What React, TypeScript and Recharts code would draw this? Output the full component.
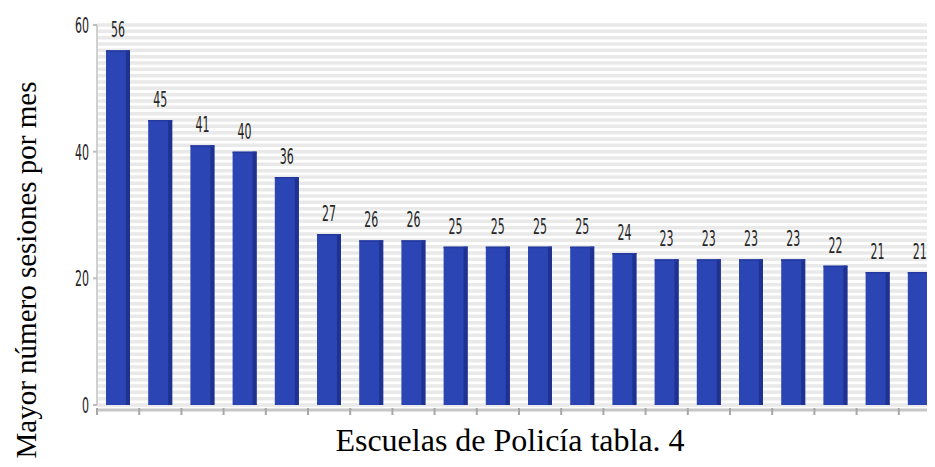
import { BarChart, Bar, XAxis, YAxis, CartesianGrid, LabelList } from 'recharts'

// one bar per police school (names are not printed on the chart)
const schools = [
  'Escuela 1', 'Escuela 2', 'Escuela 3', 'Escuela 4', 'Escuela 5',
  'Escuela 6', 'Escuela 7', 'Escuela 8', 'Escuela 9', 'Escuela 10',
  'Escuela 11', 'Escuela 12', 'Escuela 13', 'Escuela 14', 'Escuela 15',
  'Escuela 16', 'Escuela 17', 'Escuela 18', 'Escuela 19', 'Escuela 20',
]
const sessions = [56, 45, 41, 40, 36, 27, 26, 26, 25, 25, 25, 25, 24, 23, 23, 23, 23, 22, 21, 21]
const yTicks = [0, 20, 40, 60]
const yMax = 60
const stripeStep = 1

const data = schools.map((name, i) => ({ name, value: sessions[i] }))

const BAR = '#2b45b4'
const BAR_EDGE = '#1f3290'
const LABEL = '#262626'
const SERIF = '"Liberation Serif", "Times New Roman", Times, serif'

const ShadedBar = (props: any) => {
  const { x, y, width, height } = props
  if (!height) return null
  const edge = Math.max(3, width * 0.17)
  return (
    <g>
      <rect x={x} y={y} width={width} height={height} fill={BAR} />
      <rect x={x + width - edge} y={y} width={edge} height={height} fill={BAR_EDGE} />
      <rect x={x} y={y} width={width} height={1.5} fill="#23399e" />
    </g>
  )
}

// narrow digits, like the original chart tool
const ValueLabel = (props: any) => {
  const { x, y, width, value } = props
  return (
    <g transform={`translate(${x + width / 2},${y - 13})`}>
      <text transform="scale(0.5,1)" textAnchor="middle" fontSize={22} fontFamily="DejaVu Sans" fill={LABEL}>
        {value}
      </text>
    </g>
  )
}

const YTick = (props: any) => {
  const { x, y, payload } = props
  return (
    <g transform={`translate(${x},${y})`}>
      <text transform="scale(0.5,1)" textAnchor="end" dy="0.36em" fontSize={22} fontFamily="DejaVu Sans" fill={LABEL}>
        {payload.value}
      </text>
    </g>
  )
}

// tick marks sit on the band boundaries, not the centres
const XTick = (props: any) => {
  const { x, y, payload } = props
  const half = payload?.offset ?? 21
  return <line x1={x - half} x2={x - half} y1={y + 3} y2={y + 10} stroke="#a8a8a8" strokeWidth={2} />
}

const stripes = (args: any) => {
  const { yAxis, offset } = args
  const vals: number[] = []
  for (let v = 0; v <= yMax; v += stripeStep) vals.push(v)
  if (yAxis && typeof yAxis.scale === 'function') return vals.map(v => yAxis.scale(v))
  return vals.map(v => offset.top + offset.height * (1 - v / yMax))
}

export default function App() {
  return (
    <div style={{ position: 'relative', width: 935, height: 467, margin: -8, overflow: 'hidden', background: '#fff' }}>
      <BarChart
        width={945}
        height={467}
        data={data}
        margin={{ top: 25, right: 4, bottom: 32, left: 60 }}
        barSize={24}
      >
        <CartesianGrid
          vertical={false}
          horizontalCoordinatesGenerator={stripes}
          stroke="#e9e9e9"
          strokeWidth={3.5}
        />
        <XAxis
          dataKey="name"
          height={30}
          tickSize={0}
          tickMargin={0}
          tick={<XTick />}
          axisLine={{ stroke: '#c6c6c6', strokeWidth: 3, transform: 'translate(0,5)' }}
          interval={0}
        />
        <YAxis
          width={37}
          domain={[0, yMax]}
          ticks={yTicks}
          tickSize={4}
          tickMargin={4}
          tick={<YTick />}
          tickLine={{ stroke: '#bdbdbd', strokeWidth: 2 }}
          axisLine={{ stroke: '#d0d0d0', strokeWidth: 2 }}
        />
        <Bar dataKey="value" shape={<ShadedBar />} isAnimationActive={false}>
          <LabelList dataKey="value" content={<ValueLabel />} />
        </Bar>
      </BarChart>

      <div
        style={{
          position: 'absolute',
          left: 26,
          top: 270,
          transform: 'translate(-50%,-50%) rotate(-90deg)',
          whiteSpace: 'nowrap',
          fontFamily: SERIF,
          fontSize: 29,
          lineHeight: '34px',
          color: '#000',
        }}
      >
        Mayor número sesiones por mes
      </div>
      <div
        style={{
          position: 'absolute',
          left: 510,
          top: 421,
          transform: 'translateX(-50%)',
          whiteSpace: 'nowrap',
          fontFamily: SERIF,
          fontSize: 32,
          lineHeight: '38px',
          color: '#000',
        }}
      >
        Escuelas de Policía tabla. 4
      </div>
    </div>
  )
}
